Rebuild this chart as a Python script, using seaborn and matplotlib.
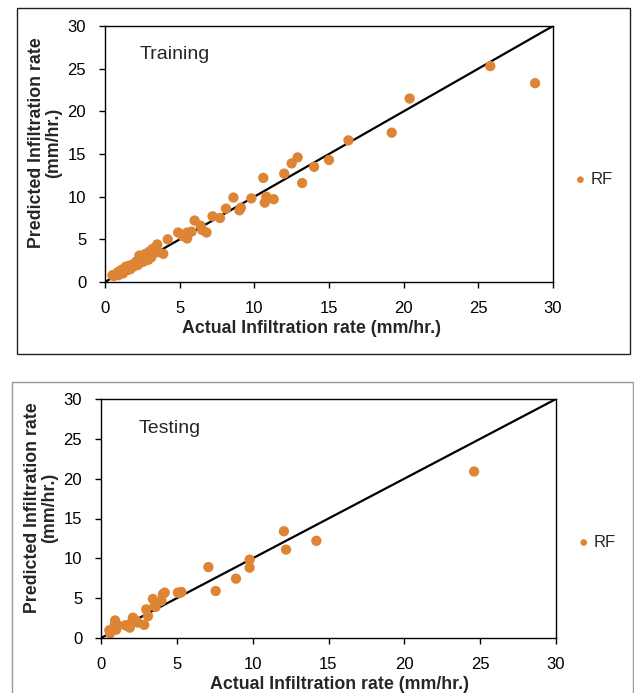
import seaborn as sns
import matplotlib.pyplot as plt
import pandas as pd
from matplotlib.patches import Rectangle

# Training set (actual, predicted)
train_actual = [0.5, 0.6, 0.7, 0.8, 0.9, 0.9, 1.0, 1.1, 1.2, 1.2, 1.3, 1.4, 1.5, 1.5,
                1.6, 1.7, 1.8, 1.9, 2.0, 2.0, 2.1, 2.2, 2.3, 2.3, 2.4, 2.5, 2.6, 2.7,
                2.8, 2.9, 3.0, 3.0, 3.1, 3.2, 3.3, 3.5, 3.6, 3.9, 4.2,
                4.9, 5.2, 5.5, 5.5, 5.8, 6.0, 6.4, 6.5, 6.8, 7.2, 7.7, 8.1, 8.6, 9.0,
                9.1, 9.8, 10.6, 10.7, 10.8, 11.3, 12.0, 12.5, 12.9, 13.2, 14.0, 15.0,
                16.3, 19.2, 20.4, 25.8, 28.8]
train_pred = [0.8, 0.7, 0.9, 1.0, 0.8, 1.2, 1.1, 1.4, 1.0, 1.5, 1.3, 1.8, 1.4, 1.7,
              1.9, 1.5, 2.0, 1.8, 2.2, 1.9, 2.4, 2.0, 3.1, 2.5, 2.3, 2.8, 2.4, 3.3,
              2.9, 2.6, 3.6, 3.2, 2.9, 3.9, 3.4, 4.4, 3.5, 3.3, 5.0,
              5.8, 5.4, 5.1, 5.8, 5.9, 7.2, 6.6, 6.1, 5.8, 7.7, 7.5, 8.6, 9.9, 8.4,
              8.7, 9.8, 12.2, 9.3, 10.0, 9.7, 12.7, 13.9, 14.6, 11.6, 13.5, 14.3,
              16.6, 17.5, 21.5, 25.3, 23.3]

# Testing set
test_actual = [0.55, 0.6, 0.75, 0.9, 0.93, 1.0, 1.1, 1.6, 1.77, 1.9, 1.95, 2.1, 2.3,
               2.43, 2.85, 2.98, 3.1, 3.42, 3.53, 3.6, 3.98, 4.08, 4.2, 5.07, 5.2,
               5.3, 7.08, 7.56, 8.9, 9.8, 9.8, 12.06, 12.2, 14.2, 24.6]
test_pred = [0.97, 0.6, 0.95, 1.6, 2.2, 1.05, 1.6, 1.6, 1.5, 1.3, 1.8, 2.55, 2.2,
             1.93, 1.65, 3.6, 2.75, 4.9, 4.04, 3.9, 4.66, 5.5, 5.7, 5.7, 5.65,
             5.77, 8.9, 5.9, 7.45, 9.83, 8.83, 13.4, 11.1, 12.2, 20.9]

orange = "#DD8535"

sns.set_style("ticks")
plt.rcParams['font.family'] = ['Liberation Sans', 'DejaVu Sans']

fig = plt.figure(figsize=(6.34, 6.93), dpi=100)

# outer frames
fig.patches.append(Rectangle((17/634, 1-354/693), 613/634, 346/693, transform=fig.transFigure,
                             fill=False, edgecolor="#222222", linewidth=1.0))
fig.patches.append(Rectangle((12/634, 1-720/693), 621/634, 338/693, transform=fig.transFigure,
                             fill=False, edgecolor="#999999", linewidth=1.0))

panels = [
    ("Training", train_actual, train_pred, [105/634, 1-282/693, 448/634, 256/693], 0.46, (2.3, 26.7)),
    ("Testing", test_actual, test_pred, [101/634, 1-638/693, 455/634, 239/693], 0.525, (2.5, 26.3)),
]

for name, act, pred, rect, xlab_x, txt_xy in panels:
    ax = fig.add_axes(rect)
    df = pd.DataFrame({"actual": act, "predicted": pred})
    ax.plot([0, 30], [0, 30], color="black", linewidth=1.6, zorder=1)
    sns.scatterplot(data=df, x="actual", y="predicted", ax=ax, color=orange,
                    s=55, edgecolor="none", label="RF", zorder=2)
    ax.set_xlim(0, 30)
    ax.set_ylim(0, 30)
    ax.set_xticks(range(0, 31, 5))
    ax.set_yticks(range(0, 31, 5))
    ax.tick_params(labelsize=12, length=4.5, width=1, colors="black", pad=9)
    for sp in ax.spines.values():
        sp.set_visible(True)
        sp.set_color("black")
        sp.set_linewidth(1.0)
    ax.set_xlabel("Actual Infiltration rate (mm/hr.)", fontsize=12.8,
                  fontweight="bold", labelpad=3)
    ax.xaxis.label.set_x(xlab_x)
    ax.set_ylabel("Predicted Infiltration rate\n(mm/hr.)", fontsize=12.8,
                  fontweight="bold", labelpad=4, linespacing=1.0)
    ax.yaxis.label.set_y(0.545)
    ax.text(txt_xy[0], txt_xy[1], name, fontsize=14, va="center")
    ax.legend(loc="center left", bbox_to_anchor=(1.05, 0.40), frameon=False,
              fontsize=12, markerscale=0.65, handlelength=0.6, handletextpad=0.3,
              borderpad=0, borderaxespad=0)

fig.savefig("out.png", dpi=100)
